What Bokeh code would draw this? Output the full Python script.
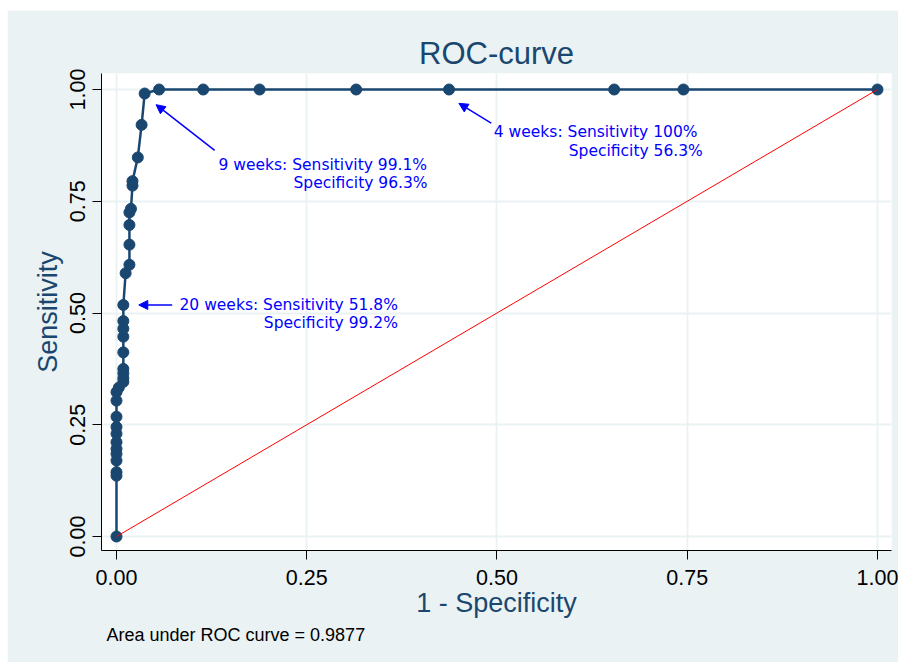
from bokeh.plotting import figure
from bokeh.models import (ColumnDataSource, Range1d, FixedTicker, Title, Arrow,
                          NormalHead)
from bokeh.core.properties import value
from bokeh.embed import file_html
from bokeh.resources import INLINE

# ---- data ----
one_minus_spec = [0, 0, 0, 0, 0, 0, 0, 0, 0, 0, 0, 0, 0.003, 0.009, 0.009,
                  0.009, 0.009, 0.009, 0.009, 0.009, 0.009, 0.009, 0.012, 0.017,
                  0.017, 0.017, 0.017, 0.019, 0.021, 0.021, 0.028, 0.033, 0.037,
                  0.056, 0.114, 0.188, 0.315, 0.437, 0.654, 0.745, 1.0]
sensitivity = [0, 0.136, 0.144, 0.170, 0.185, 0.196, 0.211, 0.230, 0.245,
               0.268, 0.304, 0.323, 0.333, 0.346, 0.354, 0.365, 0.375, 0.412,
               0.447, 0.465, 0.482, 0.518, 0.589, 0.608, 0.653, 0.697, 0.725,
               0.733, 0.785, 0.795, 0.848, 0.921, 0.991, 1, 1, 1, 1, 1, 1, 1, 1]
ref_x = [0, 1]
ref_y = [0, 1]
ticks = [0, 0.25, 0.5, 0.75, 1.0]
tick_labels = ["0.00", "0.25", "0.50", "0.75", "1.00"]
ann_line1 = ["9 weeks: Sensitivity 99.1%", "4 weeks: Sensitivity 100%",
             "20 weeks: Sensitivity 51.8%"]
ann_line2 = ["Specificity 96.3%", "Specificity 56.3%", "Specificity 99.2%"]
auc_text = "Area under ROC curve = 0.9877"

NAVY = "#1a476f"
BG = "#eaf2f3"
FONT = "Liberation Sans"

p = figure(width=891, height=652, output_backend="svg", toolbar_location=None,
           x_range=Range1d(-0.0197, 1.0184), y_range=Range1d(-0.0313, 1.0358),
           min_border_left=94, min_border_right=7, min_border_top=63,
           min_border_bottom=112)
p.margin = (10, 7, 0, 7)
p.background_fill_color = "white"
p.border_fill_color = BG
p.outline_line_color = None

p.title.text = "ROC-curve"
p.title.align = "center"
p.title.text_font = FONT
p.title.text_font_size = "31px"
p.title.text_font_style = "normal"
p.title.text_color = NAVY
p.title.standoff = 5

for ax in (p.xaxis[0], p.yaxis[0]):
    ax.ticker = FixedTicker(ticks=ticks)
    ax.major_label_overrides = {t: l for t, l in zip(ticks, tick_labels)}
    ax.minor_tick_line_color = None
    ax.major_tick_in = 0
    ax.major_tick_out = 9
    ax.major_tick_line_color = "black"
    ax.axis_line_color = "black"
    ax.major_label_text_font = FONT
    ax.major_label_text_font_size = "21.5px"
    ax.major_label_text_color = "black"
    ax.axis_label_text_font = FONT
    ax.axis_label_text_font_size = "27px"
    ax.axis_label_text_font_style = "normal"
    ax.axis_label_text_color = NAVY

p.xaxis.axis_label = "1 - Specificity"
p.yaxis.axis_label = "Sensitivity"
p.yaxis.major_label_orientation = "vertical"
p.xaxis.major_label_standoff = 10
p.yaxis.major_label_standoff = 7
p.xaxis.axis_label_standoff = 0
p.yaxis.axis_label_standoff = 5

p.grid.ticker = FixedTicker(ticks=ticks)
p.grid.grid_line_color = BG
p.grid.grid_line_width = 1.8

src = ColumnDataSource(dict(x=one_minus_spec, y=sensitivity))
p.line("x", "y", source=src, line_color=NAVY, line_width=2.5)
p.scatter("x", "y", source=src, size=11, fill_color=NAVY, line_color=NAVY)

p.line(ref_x, ref_y, line_color="red", line_width=1)

# annotation text (positions are layout)
l1_x = [0.134, 0.4958, 0.0828]
l1_y = [0.830, 0.9045, 0.519]
l2_x = [0.2326, 0.5943, 0.1936]
l2_y = [0.790, 0.862, 0.478]
for xs, ys, txt in ((l1_x, l1_y, ann_line1), (l2_x, l2_y, ann_line2)):
    p.text(x=xs, y=ys, text=txt, text_font=value("DejaVu Sans"),
           text_font_size="15.5px", text_color="blue", text_align="left",
           text_baseline="middle")

arrows = [((0.129, 0.864), (0.052, 0.966)),
          ((0.4924, 0.9246), (0.450, 0.969)),
          ((0.0732, 0.518), (0.0293, 0.518))]
for (xs, ys), (xe, ye) in arrows:
    p.add_layout(Arrow(x_start=xs, y_start=ys, x_end=xe, y_end=ye,
                       line_color="blue", line_width=1.5,
                       end=NormalHead(size=9, fill_color="blue",
                                      line_color="blue")))

note = Title(text=auc_text, align="left", offset=5, standoff=4,
             text_font=FONT, text_font_size="18px", text_font_style="normal",
             text_color="black")
p.add_layout(note, "below")

open("out.html", "w").write(file_html(p, INLINE))
